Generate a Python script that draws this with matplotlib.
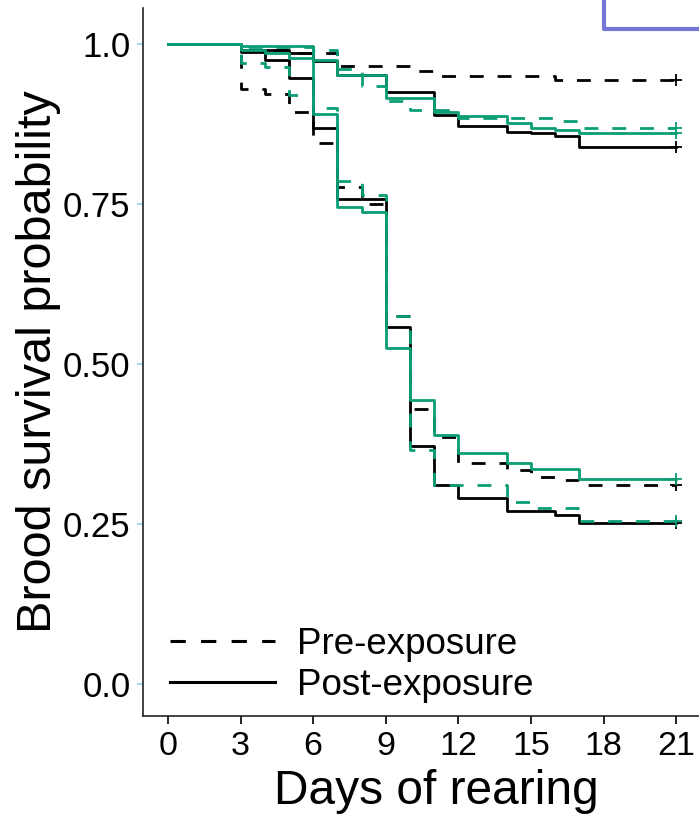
import matplotlib.pyplot as plt
from matplotlib.lines import Line2D

plt.rcParams['font.family'] = ['Liberation Sans', 'DejaVu Sans']

GREEN = '#0a9e74'

# Kaplan-Meier estimates (day of event, survival after it)
# high survival groups
hi_pre_black_t = [0, 3, 5, 7, 10, 11, 16]
hi_pre_black_s = [1.0, 0.99, 0.985, 0.965, 0.957, 0.95, 0.943]

hi_post_black_t = [0, 3, 5, 6, 7, 9, 11, 12, 14, 15, 16, 17]
hi_post_black_s = [1.0, 0.99, 0.985, 0.973, 0.952, 0.925, 0.889, 0.871, 0.863, 0.86, 0.856, 0.839]

hi_pre_green_t = [0, 3, 6, 7, 8, 9, 10, 12, 16, 17]
hi_pre_green_s = [1.0, 0.995, 0.99, 0.96, 0.934, 0.91, 0.897, 0.884, 0.88, 0.869]

hi_post_green_t = [0, 3, 6, 7, 9, 11, 12, 14, 15, 16, 17]
hi_post_green_s = [1.0, 0.996, 0.975, 0.952, 0.916, 0.894, 0.8875, 0.876, 0.869, 0.866, 0.861]

# low survival groups
lo_pre_black_t = [0, 3, 4, 5, 6, 7, 8, 9, 10, 11, 12, 14, 15, 16, 17]
lo_pre_black_s = [1.0, 0.93, 0.922, 0.894, 0.845, 0.777, 0.75, 0.575, 0.43, 0.386, 0.345, 0.334, 0.324, 0.319, 0.311]

lo_post_black_t = [0, 3, 4, 5, 6, 7, 9, 10, 11, 12, 14, 16, 17]
lo_post_black_s = [1.0, 0.987, 0.975, 0.947, 0.869, 0.758, 0.558, 0.371, 0.311, 0.291, 0.271, 0.264, 0.251]

lo_pre_green_t = [0, 3, 4, 5, 6, 7, 8, 9, 10, 11, 14, 15, 17]
lo_pre_green_s = [1.0, 0.97, 0.964, 0.92, 0.90, 0.786, 0.764, 0.575, 0.366, 0.311, 0.285, 0.275, 0.254]

lo_post_green_t = [0, 3, 4, 5, 6, 7, 8, 9, 10, 11, 12, 14, 15, 17]
lo_post_green_s = [1.0, 0.99, 0.985, 0.978, 0.89, 0.745, 0.737, 0.525, 0.443, 0.389, 0.361, 0.346, 0.336, 0.320]

end_day = 21
x_ticks = [0, 3, 6, 9, 12, 15, 18, 21]
y_ticks = [0.0, 0.25, 0.50, 0.75, 1.0]
y_tick_labels = ['0.0', '0.25', '0.50', '0.75', '1.0']

DASH = (0, (5.0, 5.0))
curves = [
    (hi_pre_black_t, hi_pre_black_s, 'black', DASH),
    (lo_pre_black_t, lo_pre_black_s, 'black', DASH),
    (hi_post_black_t, hi_post_black_s, 'black', '-'),
    (lo_post_black_t, lo_post_black_s, 'black', '-'),
    (hi_pre_green_t, hi_pre_green_s, GREEN, DASH),
    (lo_pre_green_t, lo_pre_green_s, GREEN, DASH),
    (hi_post_green_t, hi_post_green_s, GREEN, '-'),
    (lo_post_green_t, lo_post_green_s, GREEN, '-'),
]

fig = plt.figure(figsize=(6.99, 8.17), dpi=100)
# the panel is cropped on the right, so the axes run past the figure edge
ax = fig.add_axes([143 / 699, 101 / 817, (729 - 143) / 699, 708 / 817])

for t, s, col, ls in curves:
    ax.step(t + [end_day], s + [s[-1]], where='post', color=col,
            linestyle=ls, linewidth=2.0)
    ax.plot(end_day, s[-1], marker='+', color=col, markersize=8, mew=1.3)

ax.set_xlim(-1.03, 23.18)
ax.set_ylim(-0.05, 1.056)
ax.set_xticks(x_ticks)
ax.set_yticks(y_ticks)
ax.set_yticklabels(y_tick_labels)
ax.spines['top'].set_visible(False)
ax.spines['right'].set_visible(False)
for sp in ['left', 'bottom']:
    ax.spines[sp].set_linewidth(1.2)
    ax.spines[sp].set_color('#222222')
ax.tick_params(axis='x', labelsize=24.5, length=6, width=1.2, pad=5)
ax.tick_params(axis='y', labelsize=25, length=4, width=1.5, color='#a8d8f0', pad=5)

ax.set_xlabel('Days of rearing', fontsize=34.5, labelpad=5)
ax.set_ylabel('Brood survival probability', fontsize=35, labelpad=1)

handles = [Line2D([], [], color='black', linestyle=DASH, linewidth=2.2),
           Line2D([], [], color='black', linestyle='-', linewidth=2.2)]
ax.legend(handles, ['Pre-exposure', 'Post-exposure'], loc='lower left',
          bbox_to_anchor=(27 / 586, 0.018), frameon=False, fontsize=26.5,
          handlelength=2.85, handletextpad=0.6, labelspacing=0.18,
          borderpad=0, borderaxespad=0)

# cropped box from a neighbouring panel
fig.add_artist(Line2D([604 / 699, 604 / 699, 1.0], [1.0, 1 - 29 / 817, 1 - 29 / 817],
                      transform=fig.transFigure, color='#7575d6', linewidth=3))

fig.savefig('out.png', dpi=100)
